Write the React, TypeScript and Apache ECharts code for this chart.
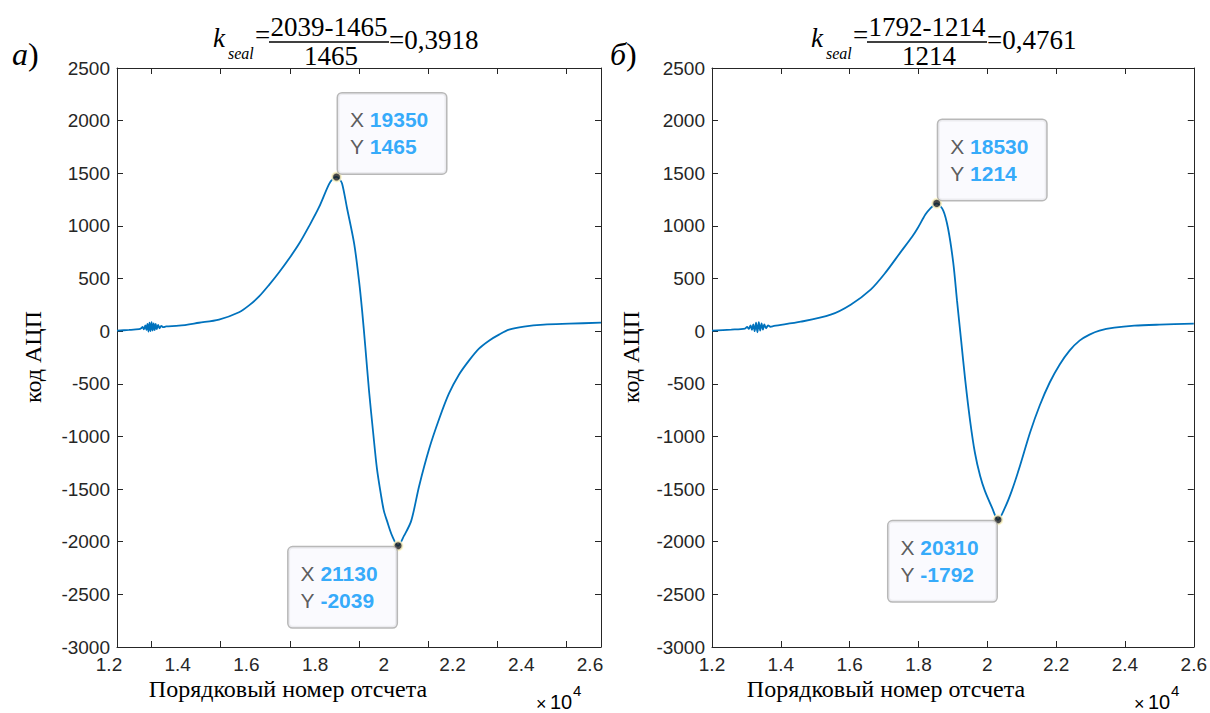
import React, { useEffect, useRef } from "react";
import * as echarts from "echarts";

// Panel a) — signal samples
const xA = [13000, 13350, 13640, 13700, 13740, 13780, 13820, 13850, 13880, 13910, 13940, 13970, 14000, 14030, 14060, 14090, 14120, 14150, 14190, 14230, 14280, 14340, 14420, 14790, 15370, 15950, 16530, 16820, 17110, 17400, 17690, 17980, 18270, 18560, 18840, 19130, 19250, 19350, 19420, 19510, 19650, 19860, 20000, 20090, 20180, 20290, 20410, 20520, 20640, 20720, 20810, 20960, 21130, 21300, 21510, 21740, 22030, 22320, 22600, 22890, 23180, 23470, 23760, 24050, 24340, 24770, 25350, 26080, 27000];
const yA = [5, 12, 20, 28, 40, 18, 55, 12, 70, -5, 80, 0, 85, 5, 75, 10, 70, 20, 60, 28, 50, 38, 45, 52, 80, 110, 180, 245, 330, 440, 560, 690, 832, 1000, 1175, 1395, 1450, 1465, 1450, 1403, 1175, 832, 480, 195, -138, -566, -965, -1308, -1564, -1707, -1802, -1945, -2039, -1945, -1802, -1470, -1117, -832, -594, -414, -280, -166, -90, -33, 14, 43, 62, 71, 81];

// Panel б) — signal samples
const xB = [12000, 12560, 12960, 13020, 13070, 13120, 13160, 13200, 13240, 13280, 13320, 13360, 13400, 13440, 13480, 13520, 13570, 13630, 13700, 13800, 14580, 15450, 16030, 16610, 17040, 17470, 17820, 17970, 18200, 18340, 18530, 18720, 18860, 19010, 19120, 19240, 19360, 19500, 19640, 19790, 19930, 20140, 20310, 20510, 20710, 20950, 21240, 21520, 21810, 22100, 22390, 22680, 22970, 23260, 23690, 24270, 25000, 26000];
const yB = [5, 15, 25, 40, 22, 55, 12, 65, 0, 80, -10, 85, 5, 75, 15, 65, 28, 55, 42, 50, 90, 157, 252, 395, 556, 746, 899, 975, 1108, 1165, 1214, 1146, 975, 651, 290, -90, -470, -851, -1155, -1374, -1517, -1678, -1792, -1678, -1517, -1279, -965, -708, -490, -319, -185, -90, -33, 5, 33, 52, 62, 71];

// Data tips (extremes)
const tipsA = [[19350, 1465], [21130, -2039]];
const tipsB = [[18530, 1214], [20310, -1792]];

// Axes
const xLabelValues = [12000, 14000, 16000, 18000, 20000, 22000, 24000, 26000];
const xInnerTicksA = [14000, 16000, 18000, 20000, 22000, 24000, 26000];
const titleA = { k: "k", sub: "seal", num: "2039-1465", den: "1465", res: "=0,3918", tag: "а)" };
const titleB = { k: "k", sub: "seal", num: "1792-1214", den: "1214", res: "=0,4761", tag: "б)" };
const yName = "код АЦП";
const xName = "Порядковый номер отсчета";

const AX = "#262626";
const SANS = '"Liberation Sans", Arial, sans-serif';
const SERIF = '"Liberation Serif", "Times New Roman", serif';
const TIP_W = 108;

const zip = (xs: number[], ys: number[]) => xs.map((x, i) => [x, ys[i]]);
const fmtX = (v: number) => String(Math.round(v / 100) / 100);

function xAxisCfg(grid: number, min: number, max: number, pos: "bottom" | "top", opts: any) {
  return {
    type: "value",
    gridIndex: grid,
    position: pos,
    min,
    max,
    axisLine: { show: true, onZero: false, lineStyle: { color: AX, width: 1 } },
    axisTick: { show: true, inside: true, length: 6, lineStyle: { color: AX, width: 1 }, ...(opts.tick || {}) },
    axisLabel: opts.label || { show: false },
    splitLine: { show: false },
    ...(opts.extra || {}),
  };
}

function yAxisCfg(grid: number, pos: "left" | "right", showLabel: boolean) {
  return {
    type: "value",
    gridIndex: grid,
    position: pos,
    min: -3000,
    max: 2500,
    interval: 500,
    axisLine: { show: true, onZero: false, lineStyle: { color: AX, width: 1 } },
    axisTick: { show: true, inside: true, length: 6, lineStyle: { color: AX, width: 1 } },
    axisLabel: showLabel
      ? { show: true, color: AX, fontSize: 19, fontFamily: SANS, margin: 7, formatter: (v: number) => String(v) }
      : { show: false },
    splitLine: { show: false },
  };
}

const labelAxisLabel = {
  show: true,
  color: AX,
  fontSize: 19,
  fontFamily: SANS,
  margin: 8,
  formatter: fmtX,
  showMinLabel: true,
  showMaxLabel: true,
};

function tipSeries(xi: number, yi: number, tips: number[][]) {
  return {
    type: "scatter",
    xAxisIndex: xi,
    yAxisIndex: yi,
    symbol: "circle",
    symbolSize: 9,
    z: 10,
    itemStyle: { color: "#1a1a1a", borderColor: "#fff8c8", borderWidth: 2 },
    label: {
      show: true,
      formatter: (p: any) => `{l|X }{v|${p.value[0]}}\n{l|Y }{v|${p.value[1]}}`,
      backgroundColor: "#f9f9fe",
      borderColor: "#a6a6a6",
      borderWidth: 1.5,
      borderRadius: 4,
      padding: [13, 11, 13, 12],
      width: TIP_W - 23,
      lineHeight: 27,
      align: "left",
      rich: {
        l: { fontFamily: SANS, fontSize: 21, color: "#333333", lineHeight: 27 },
        v: { fontFamily: SANS, fontSize: 21, fontWeight: "bold", color: "#0096fa", lineHeight: 27 },
      },
    },
    data: [
      { value: tips[0], label: { position: [7, 2], align: "left", verticalAlign: "bottom" } },
      { value: tips[1], label: { position: [4 - TIP_W, 7], align: "left", verticalAlign: "top" } },
    ],
  };
}

function titleGraphics(t: any, dx: number) {
  const el: any[] = [];
  const txt = (x: number, y: number, text: string, font: string, align = "left") => ({
    type: "text",
    x: x + dx,
    y,
    style: { text, font, fill: "#000", align, verticalAlign: "middle" },
  });
  el.push({
    type: "text",
    x: 12 + dx,
    y: 54,
    style: {
      text: `{a|${t.tag.slice(0, 1)}}{b|${t.tag.slice(1)}}`,
      verticalAlign: "middle",
      rich: {
        a: { font: `italic 32px ${SERIF}`, fill: "#000" },
        b: { font: `32px ${SERIF}`, fill: "#000" },
      },
    },
  });
  el.push(txt(213, 38, t.k, `italic 27px ${SERIF}`));
  el.push(txt(228, 53, t.sub, `italic 16px ${SERIF}`));
  el.push(txt(255, 35, "=", `27px ${SERIF}`));
  el.push(txt(329, 27, t.num, `27px ${SERIF}`, "center"));
  el.push({
    type: "line",
    shape: { x1: 269 + dx, y1: 42, x2: 389 + dx, y2: 42 },
    style: { stroke: "#000", lineWidth: 1.3 },
  });
  el.push(txt(331, 56, t.den, `27px ${SERIF}`, "center"));
  el.push(txt(389, 40, t.res, `27px ${SERIF}`));
  // axis titles
  el.push({
    type: "text",
    x: 33 + dx,
    y: 357,
    rotation: Math.PI / 2,
    style: { text: yName, font: `24px ${SERIF}`, fill: "#000", align: "center", verticalAlign: "middle" },
  });
  el.push(txt(288, 689, xName, `24px ${SERIF}`, "center"));
  el.push(txt(536, 704, "×", `18px ${SANS}`));
  el.push(txt(550, 702, "10", `20px ${SANS}`));
  el.push(txt(573, 690, "4", `15px ${SANS}`));
  return el;
}

export default function App() {
  const ref = useRef<HTMLDivElement>(null);
  useEffect(() => {
    if (!ref.current) return;
    const chart = echarts.init(ref.current, undefined, { renderer: "svg" });
    const option: any = {
      animation: false,
      backgroundColor: "#ffffff",
      grid: [
        { left: 117, top: 68, width: 484, height: 579 },
        { left: 712, top: 68, width: 484, height: 579 },
        { left: 109, top: 68, width: 481, height: 579 },
      ],
      xAxis: [
        xAxisCfg(0, 13000, 27000, "bottom", { tick: { customValues: xInnerTicksA } }),
        xAxisCfg(0, 13000, 27000, "top", { tick: { customValues: xInnerTicksA } }),
        xAxisCfg(1, 12000, 26000, "bottom", { extra: { interval: 2000 }, label: labelAxisLabel }),
        xAxisCfg(1, 12000, 26000, "top", { extra: { interval: 2000 } }),
        {
          type: "value",
          gridIndex: 2,
          position: "bottom",
          min: xLabelValues[0],
          max: xLabelValues[xLabelValues.length - 1],
          interval: 2000,
          axisLine: { show: false },
          axisTick: { show: false },
          splitLine: { show: false },
          axisLabel: labelAxisLabel,
        },
      ],
      yAxis: [
        yAxisCfg(0, "left", true),
        yAxisCfg(0, "right", false),
        yAxisCfg(1, "left", true),
        yAxisCfg(1, "right", false),
        { type: "value", gridIndex: 2, min: -3000, max: 2500, show: false },
      ],
      series: [
        {
          type: "line",
          xAxisIndex: 0,
          yAxisIndex: 0,
          data: zip(xA, yA),
          showSymbol: false,
          smooth: 0.3,
          lineStyle: { color: "#0072BD", width: 1.8 },
          itemStyle: { color: "#0072BD" },
        },
        {
          type: "line",
          xAxisIndex: 2,
          yAxisIndex: 2,
          data: zip(xB, yB),
          showSymbol: false,
          smooth: 0.3,
          lineStyle: { color: "#0072BD", width: 1.8 },
          itemStyle: { color: "#0072BD" },
        },
        tipSeries(0, 0, tipsA),
        tipSeries(2, 2, tipsB),
      ],
      graphic: [...titleGraphics(titleA, 0), ...titleGraphics(titleB, 598)],
    };
    chart.setOption(option);
    return () => chart.dispose();
  }, []);
  return (
    <div
      ref={ref}
      style={{ position: "fixed", left: 0, top: 0, width: 1210, height: 713, background: "#fff" }}
    />
  );
}
